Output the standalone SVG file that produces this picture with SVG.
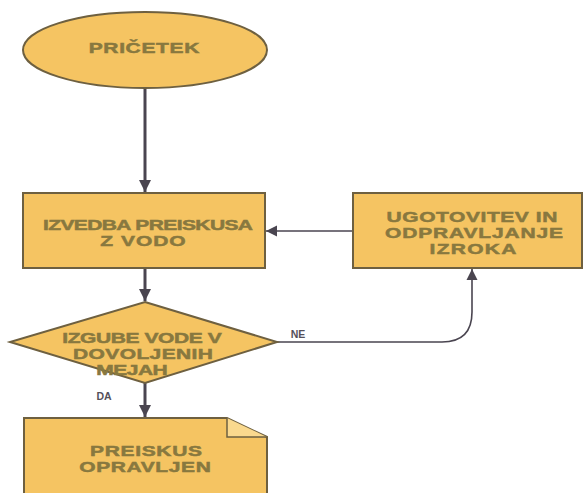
<svg xmlns="http://www.w3.org/2000/svg" width="585" height="493" viewBox="0 0 585 493">
  <style>
    .shape { fill: #F5C462; stroke: #6E6040; stroke-width: 2; }
    .lbl { font-family: "Liberation Sans", Arial, sans-serif; font-weight: bold; font-size: 15px; fill: #88783F; stroke: #88783F; stroke-width: 0.5; text-anchor: middle; }
    .tag { font-family: "Liberation Sans", Arial, sans-serif; font-weight: bold; font-size: 10.5px; fill: #55505A; text-anchor: middle; }
    .flow { fill: none; stroke: #4A4550; stroke-width: 3; }
    .thin { fill: none; stroke: #4A4550; stroke-width: 1.6; }
  </style>
  <defs>
    <marker id="head" viewBox="0 0 10 10" refX="10" refY="5" markerWidth="4" markerHeight="4" orient="auto" markerUnits="strokeWidth">
      <path d="M0,0 L10,5 L0,10 z" fill="#4A4550"/>
    </marker>
    <marker id="headThin" viewBox="0 0 10 10" refX="10" refY="5" markerWidth="7" markerHeight="7" orient="auto" markerUnits="strokeWidth">
      <path d="M0,0 L10,5 L0,10 z" fill="#4A4550"/>
    </marker>
  </defs>
  <rect width="585" height="493" fill="#FFFFFF"/>

  <g id="connectors">
    <path class="flow" d="M145,88 V192" marker-end="url(#head)"/>
    <path class="flow" d="M145,268 V301" marker-end="url(#head)"/>
    <path class="flow" d="M145,383 V417" marker-end="url(#head)"/>
    <path class="thin" d="M353,231 H266" marker-end="url(#headThin)"/>
    <path class="thin" d="M277,342 H442 Q472,342 472,312 V269" stroke-width="2" marker-end="url(#headThin)"/>
  </g>

  <!-- labels use wide lettering: scale(1.4,1), textLength given in unscaled units -->
  <g id="start">
    <ellipse class="shape" cx="145" cy="50" rx="122" ry="38"/>
    <text class="lbl" transform="translate(144,53) scale(1.4,1)" textLength="79">PRIČETEK</text>
  </g>

  <g id="test">
    <rect class="shape" x="23" y="193" width="242" height="75"/>
    <text class="lbl" transform="translate(148,230) scale(1.4,1)" textLength="150">IZVEDBA PREISKUSA</text>
    <text class="lbl" transform="translate(143,246) scale(1.4,1)" textLength="61">Z VODO</text>
  </g>

  <g id="fix">
    <rect class="shape" x="353" y="193" width="229" height="75"/>
    <text class="lbl" transform="translate(472,222) scale(1.4,1)" textLength="122">UGOTOVITEV IN</text>
    <text class="lbl" transform="translate(474,238) scale(1.4,1)" textLength="127">ODPRAVLJANJE</text>
    <text class="lbl" transform="translate(473,254) scale(1.4,1)" textLength="62">IZROKA</text>
  </g>

  <g id="decision">
    <polygon class="shape" points="145,302 277,342 145,383 10,342"/>
    <text class="lbl" transform="translate(142,343) scale(1.4,1)" textLength="114">IZGUBE VODE V</text>
    <text class="lbl" transform="translate(143,359) scale(1.4,1)" textLength="100">DOVOLJENIH</text>
    <text class="lbl" transform="translate(132,375) scale(1.4,1)" textLength="51">MEJAH</text>
    <text class="tag" x="104" y="400">DA</text>
    <text class="tag" x="298" y="338">NE</text>
  </g>

  <g id="done">
    <path class="shape" d="M24,418 H227 L267,437 V500 H24 Z"/>
    <path d="M227,418 V437 H267" fill="#FAD98E" stroke="#6E6040" stroke-width="1.5"/>
    <text class="lbl" transform="translate(146,456) scale(1.4,1)" textLength="80">PREISKUS</text>
    <text class="lbl" transform="translate(145,472) scale(1.4,1)" textLength="94">OPRAVLJEN</text>
  </g>
</svg>
